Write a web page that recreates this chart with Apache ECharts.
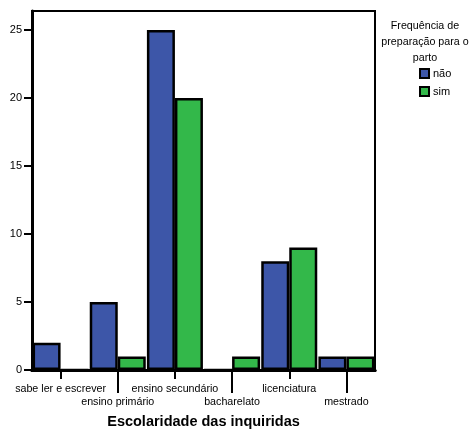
<!DOCTYPE html>
<html><head><meta charset="utf-8">
<script src="https://cdn.jsdelivr.net/npm/echarts@6/dist/echarts.min.js"></script>
<style>html,body{margin:0;padding:0;background:#fff}#c{width:470px;height:430px}</style>
</head><body><div id="c"></div>
<script>
const categories = ['sabe ler e escrever', 'ensino primário', 'ensino secundário', 'bacharelato', 'licenciatura', 'mestrado'];
const naoValues = [2, 5, 25, 0, 8, 1];
const simValues = [0, 1, 20, 1, 9, 1];
const yTicks = [0, 5, 10, 15, 20, 25];
const seriesNames = ['não', 'sim'];
const legendTitle = 'Frequência de\npreparação para o\nparto';
const xTitle = 'Escolaridade das inquiridas';

const FONT = '"Liberation Sans", Arial, sans-serif';
const chart = echarts.init(document.getElementById('c'), null, {renderer: 'canvas'});
const baseX = {
  type: 'category', data: categories, position: 'bottom',
  boundaryGap: true,
  axisLine: {show: true, lineStyle: {color: '#000', width: 3}},
  splitLine: {show: false}
};
chart.setOption({
  animation: false,
  backgroundColor: '#fff',
  textStyle: {fontFamily: FONT},
  graphic: [{
    type: 'text', x: 425, y: 18,
    style: {text: legendTitle, x: 0, y: 0, align: 'center', verticalAlign: 'top',
      font: '10.7px ' + FONT, lineHeight: 16, fill: '#000'}
  }],
  legend: {
    orient: 'vertical', left: 419, top: 68, padding: 0, itemWidth: 9, itemHeight: 9, itemGap: 7,
    icon: 'rect', data: seriesNames,
    textStyle: {fontFamily: FONT, fontSize: 11, color: '#000', padding: [0, 0, 0, -1]}
  },
  grid: {left: 32, right: 95, top: 11, bottom: 60, show: true, borderColor: '#000', borderWidth: 2,
    containLabel: false, outerBoundsMode: 'none'},
  xAxis: [
    Object.assign({}, baseX, {
      name: xTitle, nameLocation: 'middle', nameGap: 44,
      nameTextStyle: {fontFamily: FONT, fontSize: 14.5, fontWeight: 'bold', color: '#000'},
      axisTick: {show: true, alignWithLabel: true, length: 9, lineStyle: {color: '#000', width: 2},
        interval: function (i) { return i % 2 === 0; }},
      axisLabel: {show: true, margin: 14, fontSize: 10.7, color: '#000', fontFamily: FONT,
        interval: function (i) { return i % 2 === 0; }}
    }),
    Object.assign({}, baseX, {
      axisTick: {show: true, alignWithLabel: true, length: 23, lineStyle: {color: '#000', width: 2},
        interval: function (i) { return i % 2 === 1; }},
      axisLabel: {show: true, margin: 27, fontSize: 10.7, color: '#000', fontFamily: FONT,
        interval: function (i) { return i % 2 === 1; }}
    })
  ],
  yAxis: {
    type: 'value', min: 0, max: 26.4, interval: 5,
    axisLine: {show: true, lineStyle: {color: '#000', width: 3}},
    axisTick: {show: true, length: 8, lineStyle: {color: '#000', width: 2}, customValues: yTicks},
    axisLabel: {margin: 10, fontSize: 11, color: '#000', fontFamily: FONT, customValues: yTicks},
    splitLine: {show: false}
  },
  series: [
    {name: seriesNames[0], type: 'bar', data: naoValues, barGap: '0%', barCategoryGap: '2%',
      itemStyle: {color: '#3d56a8', borderColor: '#000', borderWidth: 2.5}},
    {name: seriesNames[1], type: 'bar', data: simValues, barGap: '0%', barCategoryGap: '2%',
      itemStyle: {color: '#33b84a', borderColor: '#000', borderWidth: 2.5}}
  ]
});
</script></body></html>
